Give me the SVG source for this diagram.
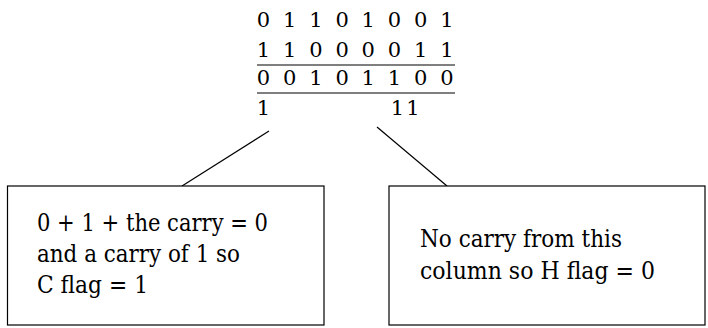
<svg xmlns="http://www.w3.org/2000/svg" width="708" height="328" viewBox="0 0 708 328">
<style>
.d{font-family:'DejaVu Serif',serif;font-size:21px;fill:#000;text-anchor:middle}
.t{font-family:'DejaVu Serif',serif;font-size:24px;fill:#000}
.box{fill:#fff;stroke:#000;stroke-width:1.2}
.ln{stroke:#000;stroke-width:1.2;fill:none}
</style>
<rect width="708" height="328" fill="#fff"/>
<g id="sum">
<text class="d" x="263.5 289.7 315.9 342.1 368.3 394.5 420.7 446.9" y="27">01101001</text>
<text class="d" x="263.5 289.7 315.9 342.1 368.3 394.5 420.7 446.9" y="57">11000011</text>
<line class="ln" x1="257" y1="65" x2="455" y2="65"/>
<text class="d" x="263.5 289.7 315.9 342.1 368.3 394.5 420.7 446.9" y="85">00101100</text>
<line class="ln" x1="257" y1="93" x2="455" y2="93"/>
<text class="d" x="263.5 397.5 413" y="115">111</text>
</g>
<g id="connectors">
<line class="ln" x1="269" y1="131" x2="182" y2="186"/>
<line class="ln" x1="377" y1="127" x2="447" y2="186"/>
</g>
<g id="box-carry">
<rect class="box" x="7.5" y="186" width="316.5" height="139"/>
<text class="t" x="37" y="231" textLength="231" lengthAdjust="spacingAndGlyphs">0 + 1 + the carry = 0</text>
<text class="t" x="37" y="262" textLength="203" lengthAdjust="spacingAndGlyphs">and a carry of 1 so</text>
<text class="t" x="37" y="293" textLength="111" lengthAdjust="spacingAndGlyphs">C flag = 1</text>
</g>
<g id="box-half">
<rect class="box" x="389" y="186" width="316" height="139"/>
<text class="t" x="420" y="247" textLength="202" lengthAdjust="spacingAndGlyphs">No carry from this</text>
<text class="t" x="420" y="279" textLength="235" lengthAdjust="spacingAndGlyphs">column so H flag = 0</text>
</g>
</svg>
